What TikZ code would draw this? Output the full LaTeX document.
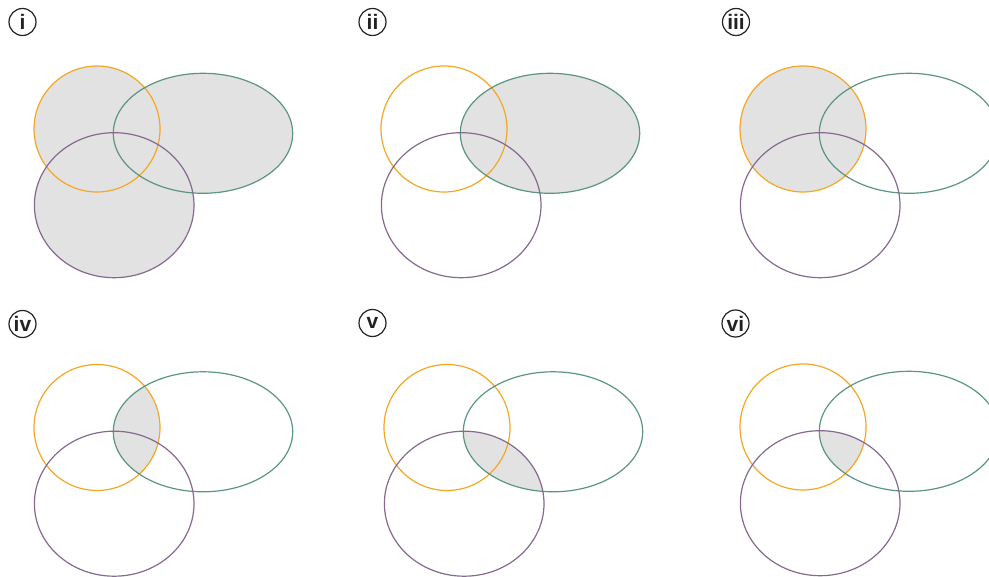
\documentclass[tikz,border=0pt]{standalone}
\usepackage{fontspec}
\setmainfont{Liberation Sans}
\definecolor{vorange}{HTML}{F5A623}
\definecolor{vgreen}{HTML}{5A9582}
\definecolor{vpurple}{HTML}{86698F}
\definecolor{vgray}{HTML}{E2E2E2}
\definecolor{vink}{HTML}{222222}
\tikzset{
  setO/.style={draw=vorange, line width=1.2pt},
  setG/.style={draw=vgreen, line width=1.2pt},
  setP/.style={draw=vpurple, line width=1.2pt},
  tag/.style={circle, draw=vink, line width=1.2pt, minimum size=27pt, inner sep=0pt,
    text=vink, font=\fontsize{21}{21}\selectfont\bfseries}
}
\newcommand{\pO}{(97pt,-129pt) circle[radius=63pt]}
\newcommand{\pG}{(203pt,-133.3pt) ellipse[x radius=89.7pt, y radius=60pt]}
\newcommand{\pP}{(114.2pt,-205.2pt) ellipse[x radius=79.8pt, y radius=72.5pt]}
\newcommand{\outlines}{\path[setO] \pO; \path[setG] \pG; \path[setP] \pP;}
\begin{document}
\begin{tikzpicture}[x=1pt,y=-1pt]
\useasboundingbox (0,0) rectangle (989,577);
\clip (0,0) rectangle (989,577);
% panel i : union
\begin{scope}
  \fill[vgray] \pO; \fill[vgray] \pG; \fill[vgray] \pP;
  \outlines
\end{scope}
% panel ii : green
\begin{scope}[shift={(347pt,0pt)}]
  \fill[vgray] \pG;
  \outlines
\end{scope}
% panel iii : orange
\begin{scope}[shift={(706pt,0pt)}]
  \fill[vgray] \pO;
  \outlines
\end{scope}
% panel iv : orange and green
\begin{scope}[shift={(0pt,-298.5pt)}]
  \begin{scope}\clip \pO; \fill[vgray] \pG; \end{scope}
  \outlines
\end{scope}
% panel v : green and purple
\begin{scope}[shift={(350pt,-298.5pt)}]
  \begin{scope}\clip \pG; \fill[vgray] \pP; \end{scope}
  \outlines
\end{scope}
% panel vi : all three
\begin{scope}[shift={(706pt,-298pt)}]
  \begin{scope}\clip \pO; \clip \pG; \fill[vgray] \pP; \end{scope}
  \outlines
\end{scope}
% labels
\node[tag] (t1) at (22.5,22) {i};
\node[tag] (t2) at (372.5,22) {ii};
\node[tag] (t3) at (736,22) {iii};
\node[tag] (t4) at (22.5,324) {iv};
\node[tag] (t5) at (372.5,323) {v};
\node[tag] (t6) at (735.5,323.5) {vi};
\end{tikzpicture}
\end{document}
